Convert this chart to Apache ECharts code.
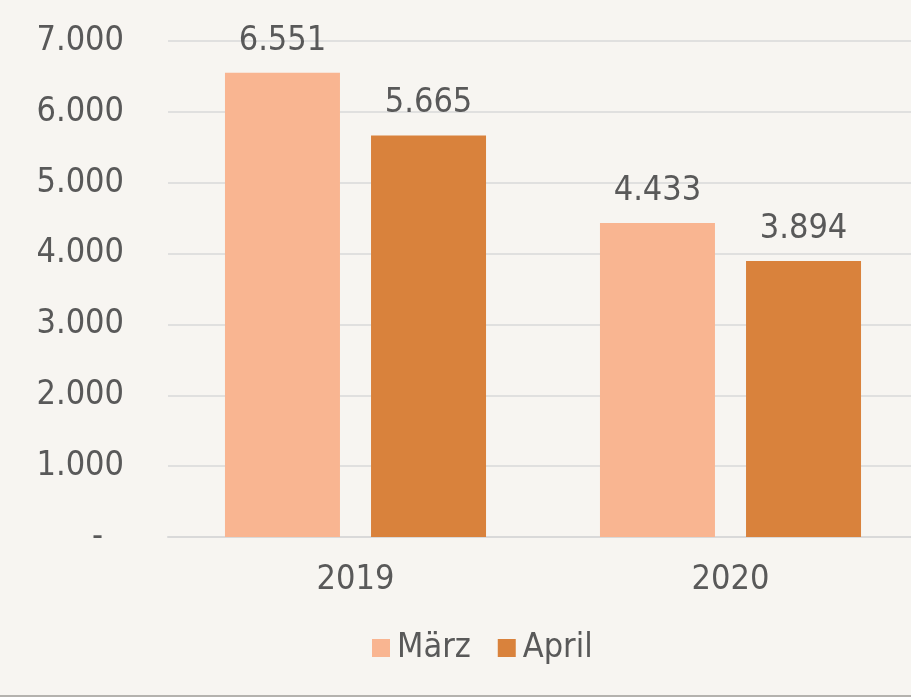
<!DOCTYPE html>
<html>
<head>
<meta charset="utf-8">
<script src="https://cdn.jsdelivr.net/npm/echarts@6/dist/echarts.min.js"></script>
<style>
  html, body { margin: 0; padding: 0; background: #f7f5f1; }
  #chart { width: 911px; height: 695px; border-bottom: 2px solid #b4b2ae; }
</style>
</head>
<body>
<div id="chart"></div>
<script>
const years = ['2019', '2020']
const maerz = [6551, 4433]
const april = [5665, 3894]
const seriesNames = ['März', 'April']

const FONT = '"DejaVu Sans Condensed", "DejaVu Sans", sans-serif'
const TEXT = '#595959'

// German thousands separator, "-" for zero like the Excel accounting format
const fmt = (v) => String(v).replace(/\B(?=(\d{3})+(?!\d))/g, '.')

const chart = echarts.init(document.getElementById('chart'), null, { renderer: 'canvas' })

const barLabel = {
  show: true,
  position: 'top',
  distance: 15,
  color: TEXT,
  fontSize: 34,
  fontFamily: FONT,
  formatter: (p) => fmt(p.value),
}

chart.setOption({
  backgroundColor: '#f7f5f1',
  animation: false,
  textStyle: { fontFamily: FONT },
  // plot area runs a little past the right edge, as in the source picture
  grid: { left: 168, right: -7, top: 41, bottom: 158, containLabel: false, outerBoundsMode: 'none' },
  legend: {
    bottom: 25,
    left: 367,
    itemWidth: 18,
    itemHeight: 18,
    itemGap: 27,
    icon: 'rect',
    textStyle: { color: TEXT, fontSize: 34, fontFamily: FONT, padding: [0, 0, 0, 2] },
    data: seriesNames,
  },
  xAxis: {
    type: 'category',
    data: years,
    axisLine: { lineStyle: { color: '#d9d9d9', width: 2 } },
    axisTick: { show: false },
    axisLabel: { color: TEXT, fontSize: 34, fontFamily: FONT, margin: 26 },
  },
  yAxis: {
    type: 'value',
    min: 0,
    max: 7000,
    interval: 1000,
    axisLine: { show: false },
    axisTick: { show: false },
    splitLine: { lineStyle: { color: '#d9d9d9', width: 1.5 } },
    axisLabel: {
      color: TEXT,
      fontSize: 34,
      fontFamily: FONT,
      margin: 44,
      formatter: (v) => (v === 0 ? '{z|-}' : fmt(v)),
      rich: { z: { color: TEXT, fontSize: 34, fontFamily: FONT, padding: [0, 21, 0, 0] } },
    },
  },
  series: [
    {
      name: seriesNames[0],
      type: 'bar',
      data: maerz,
      barWidth: 115,
      barGap: '27%',
      itemStyle: { color: '#f9b591' },
      label: barLabel,
    },
    {
      name: seriesNames[1],
      type: 'bar',
      data: april,
      barWidth: 115,
      barGap: '27%',
      itemStyle: { color: '#d9823c' },
      label: barLabel,
    },
  ],
})
</script>
</body>
</html>
